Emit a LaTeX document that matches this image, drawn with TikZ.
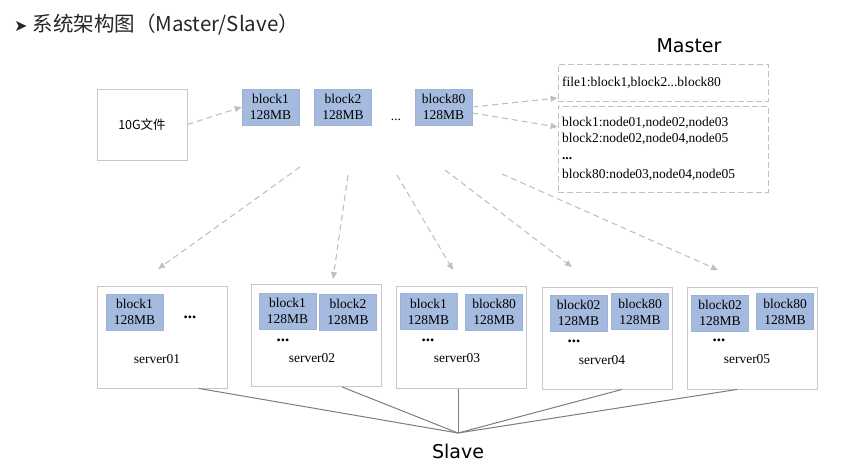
\documentclass[tikz,border=0pt]{standalone}
\usepackage{fontspec}
\setmainfont{Liberation Serif}
\newfontfamily\cjk{Noto Sans CJK SC}
\newfontfamily\dejavu{DejaVu Sans}
\usepackage{tikz}
\usepackage{xcolor}
\usetikzlibrary{positioning, arrows.meta}
\definecolor{blockblue}{RGB}{164,186,223}
\definecolor{boxgray}{RGB}{200,200,200}
\definecolor{arrowgray}{RGB}{192,192,192}
\definecolor{linegray}{RGB}{125,125,125}

\begin{document}
\begin{tikzpicture}[x=1pt, y=-1pt,
        blk/.style={rectangle, fill=blockblue, draw=blockblue!85!gray, line width=0.6pt, minimum width=57pt, minimum height=36pt, inner sep=0pt, align=center, font=\fontsize{13.5}{16}\selectfont},
        srv/.style={rectangle, draw=boxgray, line width=0.9pt, minimum width=130pt, minimum height=102pt},
        mbox/.style={rectangle, draw=arrowgray, dashed, dash pattern=on 6pt off 3pt, line width=0.9pt, minimum width=210pt, text width=202pt, inner xsep=4pt, align=left, font=\fontsize{13.5}{16}\selectfont},
        txt/.style={inner sep=0pt, font=\fontsize{13.5}{16}\selectfont},
        bigdots/.style={inner sep=0pt, anchor=base, font=\fontsize{17}{17}\selectfont\bfseries},
        flow/.style={draw=arrowgray, dashed, dash pattern=on 6pt off 4pt, line width=1.1pt, -{Triangle[length=7pt, width=6pt]}},
        link/.style={draw=linegray, line width=1pt}]
            \useasboundingbox (0,0) rectangle (852,475);

            \node[anchor=west, inner sep=0pt, text=black!85] (title) at (14,25) {{\dejavu\fontsize{16}{16}\selectfont ➤}\hspace{5pt}{\cjk\fontsize{20.5}{22}\selectfont 系统架构图（Master/Slave）}};

            \node[srv, minimum width=90pt, minimum height=71pt, font=\cjk\fontsize{12.5}{14}\selectfont] (f) at (142,124.5) {10G文件};
            \node[blk] (b1) at (270.5,107) {block1\\128MB};
            \node[blk] (b2) at (343,107) {block2\\128MB};
            \node[txt, anchor=base] (rowdots) at (396,120) {...};
            \node[blk] (b80) at (443.5,107) {block80\\128MB};

            \node[inner sep=0pt, font=\dejavu\fontsize{19}{20}\selectfont] (master) at (689,46) {Master};
            \node[mbox, minimum height=37pt] (m1) at (663,82.5) {file1:block1,block2...block80};
            \node[mbox, minimum height=86pt] (m2) at (663,149) {block1:node01,node02,node03\\block2:node02,node04,node05\\[1pt]\textbf{...}\\[3pt]block80:node03,node04,node05};

            \node[srv] (s1) at (162,337) {};
            \node[blk] (s1a) at (134.5,312) {block1\\128MB};
            \node[bigdots] (s1d) at (190,318) {...};
            \node[txt] (s1t) at (157,359) {server01};

            \node[srv] (s2) at (316,335.5) {};
            \node[blk] (s2a) at (287.5,311) {block1\\128MB};
            \node[blk] (s2b) at (348,312) {block2\\128MB};
            \node[bigdots] (s2d) at (283,341) {...};
            \node[txt] (s2t) at (312,358) {server02};

            \node[srv] (s3) at (461,337.5) {};
            \node[blk] (s3a) at (428.5,311.5) {block1\\128MB};
            \node[blk] (s3b) at (494,312) {block80\\128MB};
            \node[bigdots] (s3d) at (428,341) {...};
            \node[txt] (s3t) at (457,358) {server03};

            \node[srv] (s4) at (607,338) {};
            \node[blk] (s4a) at (578.5,313) {block02\\128MB};
            \node[blk] (s4b) at (640,311.5) {block80\\128MB};
            \node[bigdots] (s4d) at (574,342) {...};
            \node[txt] (s4t) at (602,360) {server04};

            \node[srv] (s5) at (752,338) {};
            \node[blk] (s5a) at (720,313) {block02\\128MB};
            \node[blk] (s5b) at (785,311.5) {block80\\128MB};
            \node[bigdots] (s5d) at (719,341.5) {...};
            \node[txt] (s5t) at (747,359) {server05};

            \node[inner sep=0pt, font=\dejavu\fontsize{19}{20}\selectfont] (slave) at (458,451) {Slave};
            \coordinate (hub) at (458,433);

            \coordinate (d1a) at (300,167);
            \coordinate (d1b) at (158,269);
            \coordinate (d2a) at (348,175);
            \coordinate (d2b) at (333,279);
            \coordinate (d3a) at (397,175);
            \coordinate (d3b) at (453,270);
            \coordinate (d4a) at (445,170);
            \coordinate (d4b) at (572,267);
            \coordinate (d5a) at (502,174);
            \coordinate (d5b) at (718,270);

            \draw[flow] (f.east) -- (b1.west);
            \draw[flow] (b80.east) -- ([yshift=-15.5pt]m1.west);
            \draw[flow] ([yshift=-6pt]b80.east) -- ([yshift=22pt]m2.west);
            \draw[flow] (d1a) -- (d1b);
            \draw[flow] (d2a) -- (d2b);
            \draw[flow] (d3a) -- (d3b);
            \draw[flow] (d4a) -- (d4b);
            \draw[flow] (d5a) -- (d5b);

            \draw[link] ([xshift=37pt]s1.south) -- (hub);
            \draw[link] ([xshift=26pt]s2.south) -- (hub);
            \draw[link] ([xshift=-3pt]s3.south) -- (hub);
            \draw[link] ([xshift=15pt]s4.south) -- (hub);
            \draw[link] ([xshift=-15pt]s5.south) -- (hub);
        \end{tikzpicture}
\end{document}
